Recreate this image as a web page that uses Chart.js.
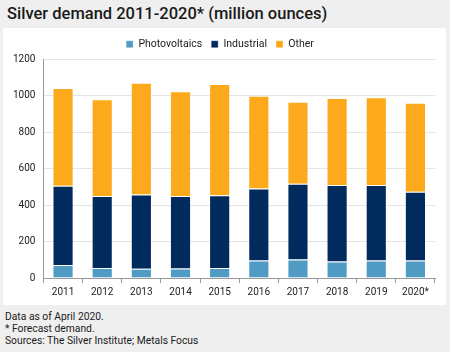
<!DOCTYPE html>
<html>
<head>
<meta charset="utf-8">
<script src="https://cdn.jsdelivr.net/npm/chart.js@4/dist/chart.umd.min.js"></script>
<style>
  html, body { margin: 0; padding: 0; }
  body { width: 450px; height: 352px; background: #efefef; position: relative; overflow: hidden;
    font-family: Roboto, "Liberation Sans", sans-serif; color: #1a1a1a; }
  .title { position: absolute; left: 7px; top: 4px; font-size: 16.5px; font-weight: 500; }
  .panel { position: absolute; left: 3px; top: 28px; width: 443px; height: 277px; background: #fff; }
  .note { position: absolute; left: 5px; top: 311px; font-size: 10.3px; line-height: 12.2px; }
</style>
</head>
<body>
<div class="title">Silver demand 2011-2020* (million ounces)</div>
<div class="panel"><canvas id="chart" width="443" height="277"></canvas></div>
<div class="note">Data as of April 2020.<br>* Forecast demand.<br>Sources: The Silver Institute; Metals Focus</div>
<script>
// data
var years = ['2011', '2012', '2013', '2014', '2015', '2016', '2017', '2018', '2019', '2020*']
var photovoltaics = [71, 55, 51, 52, 55, 96, 102, 91, 96, 96]
var industrial = [436, 396, 407, 399, 400, 395, 416, 420, 415, 378]
var other = [537, 531, 614, 574, 611, 510, 450, 477, 482, 488]
var yTicks = [0, 200, 400, 600, 800, 1000, 1200]

var font = { family: 'Roboto, "Liberation Sans", sans-serif', size: 10 }

function bar(label, data, color) {
  return {
    label: label,
    data: data,
    backgroundColor: color,
    borderColor: 'rgba(255,255,255,0.35)',
    borderWidth: 1,
    categoryPercentage: 1,
    barPercentage: 0.54
  }
}

var chart = new Chart(document.getElementById('chart'), {
  type: 'bar',
  data: {
    labels: years,
    datasets: [
      bar('Photovoltaics', photovoltaics, '#4f9bc4'),
      bar('Industrial', industrial, '#002b5c'),
      bar('Other', other, '#fcaa1b')
    ]
  },
  options: {
    responsive: false,
    animation: false,
    layout: { padding: { top: 2, right: 11, left: 2, bottom: 4 } },
    plugins: {
      legend: {
        display: true,
        position: 'top',
        labels: { boxWidth: 7, boxHeight: 7, padding: 9, color: '#222',
          font: { family: font.family, size: 10.5 } }
      },
      tooltip: { enabled: false }
    },
    scales: {
      x: {
        stacked: true,
        grid: { drawOnChartArea: false, drawTicks: true, tickLength: 5, color: '#999' },
        border: { color: '#999' },
        ticks: { color: '#222', font: font, padding: 3, maxRotation: 0 }
      },
      y: {
        stacked: true,
        min: 0,
        max: 1200,
        afterBuildTicks: function(axis) {
          axis.ticks = yTicks.map(v => ({ value: v }))
        },
        grid: { color: '#e4e4e4', drawTicks: false },
        border: { color: '#999' },
        ticks: { color: '#222', font: font, padding: 8, callback: v => String(v) }
      }
    }
  }
})
</script>
</body>
</html>
